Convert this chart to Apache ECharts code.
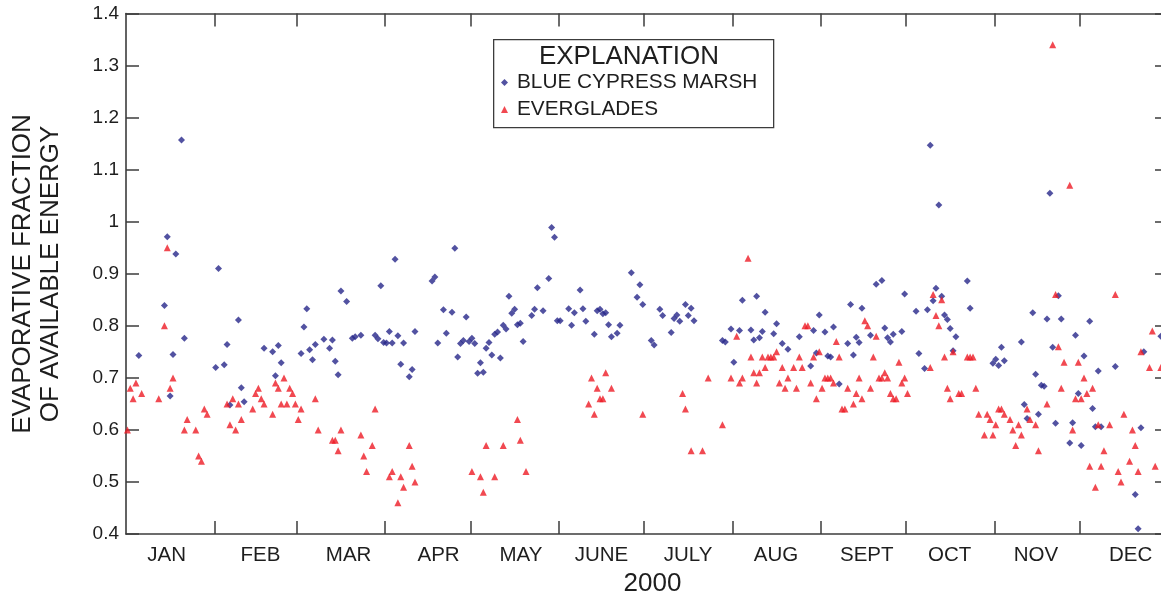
<!DOCTYPE html>
<html>
<head>
<meta charset="utf-8">
<title>Evaporative fraction of available energy, 2000</title>
<script src="https://cdn.jsdelivr.net/npm/echarts@6/dist/echarts.min.js"></script>
<style>
  html, body { margin: 0; padding: 0; background: #fff; overflow: hidden; }
  #chart { width: 1170px; height: 597px; }
</style>
</head>
<body>
<div id="chart"></div>
<script>
// Month names and lengths for the year 2000 (leap year)
const monthNames = ['JAN', 'FEB', 'MAR', 'APR', 'MAY', 'JUNE', 'JULY', 'AUG', 'SEPT', 'OCT', 'NOV', 'DEC'];
const monthDays = [31, 29, 31, 30, 31, 30, 31, 31, 30, 31, 30, 31];
// Day-of-year where each month name is set under the axis
const monthLabelDays = [14.8, 47.7, 78.7, 110.3, 139.2, 167.5, 197.9, 228.8, 260.7, 289.8, 320.1, 353.4];

// Y-axis tick values
const yTicks = [0.4, 0.5, 0.6, 0.7, 0.8, 0.9, 1.0, 1.1, 1.2, 1.3, 1.4];

// Daily evaporative fraction, [day of year, value]
const blueCypressMarsh = [
  [5, 0.743], [14, 0.839], [15, 0.971], [16, 0.665], [17, 0.745], [18, 0.938], [20, 1.157], [21, 0.776],
  [32, 0.720], [33, 0.910], [35, 0.725], [36, 0.764], [37, 0.648], [40, 0.811], [41, 0.681], [42, 0.654],
  [49, 0.757], [52, 0.750], [53, 0.704], [54, 0.762], [55, 0.729],
  [62, 0.747], [63, 0.798], [64, 0.833], [65, 0.754], [66, 0.735], [67, 0.764], [70, 0.774], [72, 0.757],
  [73, 0.773], [74, 0.732], [75, 0.706], [76, 0.867], [78, 0.847], [80, 0.776], [81, 0.779],
  [83, 0.782], [88, 0.782], [89, 0.775], [90, 0.877], [91, 0.768], [92, 0.767], [93, 0.789], [94, 0.767],
  [95, 0.928], [96, 0.781], [97, 0.726], [98, 0.767], [100, 0.702], [101, 0.716], [102, 0.789],
  [108, 0.886], [109, 0.894], [110, 0.767], [112, 0.831], [113, 0.786], [115, 0.826], [116, 0.949],
  [117, 0.740], [118, 0.766], [119, 0.772], [120, 0.817], [121, 0.770], [122, 0.776], [123, 0.766],
  [124, 0.709], [125, 0.729], [126, 0.711], [127, 0.757], [128, 0.768], [129, 0.744], [130, 0.784],
  [131, 0.788], [132, 0.738], [133, 0.801], [134, 0.794], [135, 0.857], [136, 0.824], [137, 0.832],
  [138, 0.802], [139, 0.805], [140, 0.770],
  [143, 0.820], [144, 0.832], [145, 0.873], [147, 0.829], [149, 0.891], [150, 0.989], [151, 0.970],
  [152, 0.810], [153, 0.810], [156, 0.833], [157, 0.801], [158, 0.825], [160, 0.869], [161, 0.833],
  [162, 0.809], [165, 0.784], [166, 0.829], [167, 0.832], [168, 0.823], [169, 0.825], [170, 0.802],
  [171, 0.779], [173, 0.786], [174, 0.801],
  [178, 0.902], [180, 0.855], [181, 0.879], [182, 0.841], [185, 0.772], [186, 0.763], [188, 0.832],
  [189, 0.820], [192, 0.787], [193, 0.814], [194, 0.821], [195, 0.809], [197, 0.841], [198, 0.820],
  [199, 0.834], [200, 0.810],
  [210, 0.772], [211, 0.769], [213, 0.794], [214, 0.730], [216, 0.791], [217, 0.849], [220, 0.792],
  [221, 0.773], [222, 0.857], [223, 0.777], [224, 0.789], [225, 0.826], [228, 0.785], [229, 0.804],
  [231, 0.766], [233, 0.755], [237, 0.779], [241, 0.723], [242, 0.791], [243, 0.748],
  [244, 0.821], [246, 0.788], [247, 0.742], [248, 0.740], [249, 0.798], [251, 0.688], [254, 0.766],
  [255, 0.841], [256, 0.744], [257, 0.778], [258, 0.768], [259, 0.834], [262, 0.782], [264, 0.880],
  [266, 0.887], [267, 0.796], [268, 0.777], [269, 0.769], [270, 0.784], [273, 0.789], [274, 0.861],
  [278, 0.828], [279, 0.747], [281, 0.718], [282, 0.831], [283, 1.147], [284, 0.848], [285, 0.872],
  [286, 1.032], [287, 0.857], [288, 0.821], [289, 0.812], [290, 0.795], [291, 0.752], [292, 0.779],
  [296, 0.886], [297, 0.834],
  [305, 0.728], [306, 0.736], [307, 0.724], [308, 0.759], [309, 0.733], [315, 0.769], [316, 0.649],
  [317, 0.622], [319, 0.825], [320, 0.707], [321, 0.630], [322, 0.686], [323, 0.684], [324, 0.813],
  [325, 1.055], [326, 0.759], [327, 0.613], [328, 0.858], [329, 0.813], [332, 0.575], [333, 0.614],
  [334, 0.782],
  [335, 0.670], [336, 0.570], [337, 0.742], [339, 0.809], [340, 0.641], [341, 0.606], [342, 0.713],
  [343, 0.606], [348, 0.722], [355, 0.476], [356, 0.410], [357, 0.604], [358, 0.750], [364, 0.780]
];

const everglades = [
  [1, 0.60], [2, 0.68], [3, 0.66], [4, 0.69], [6, 0.67], [12, 0.66], [14, 0.80], [15, 0.95], [16, 0.68],
  [17, 0.70], [21, 0.60], [22, 0.62], [25, 0.60], [26, 0.55], [27, 0.54], [28, 0.64], [29, 0.63],
  [36, 0.65], [37, 0.61], [38, 0.66], [39, 0.60], [40, 0.65], [41, 0.62], [45, 0.64], [46, 0.67],
  [47, 0.68], [48, 0.66], [49, 0.65], [52, 0.63], [53, 0.69], [54, 0.68], [55, 0.65], [56, 0.70],
  [57, 0.65], [58, 0.68], [59, 0.67], [60, 0.65],
  [61, 0.62], [62, 0.64], [67, 0.66], [68, 0.60], [73, 0.58], [74, 0.58], [75, 0.56], [76, 0.60],
  [83, 0.59], [84, 0.55], [85, 0.52], [87, 0.57], [88, 0.64],
  [93, 0.51], [94, 0.52], [96, 0.46], [97, 0.51], [98, 0.49], [100, 0.57], [101, 0.53], [102, 0.50],
  [122, 0.52], [125, 0.51], [126, 0.48], [127, 0.57], [130, 0.51], [133, 0.57], [138, 0.62], [139, 0.58],
  [141, 0.52],
  [163, 0.65], [164, 0.70], [165, 0.63], [166, 0.68], [167, 0.66], [168, 0.66], [169, 0.71], [171, 0.68],
  [182, 0.63], [196, 0.67], [197, 0.64], [199, 0.56], [203, 0.56], [205, 0.70], [210, 0.61],
  [213, 0.70], [215, 0.78], [216, 0.69], [217, 0.70], [219, 0.93], [220, 0.74], [221, 0.71], [222, 0.69],
  [223, 0.71], [224, 0.74], [225, 0.72], [226, 0.74], [227, 0.74], [228, 0.74], [229, 0.75], [230, 0.69],
  [231, 0.72], [232, 0.68], [233, 0.70], [235, 0.72], [236, 0.68], [237, 0.74], [238, 0.72], [239, 0.80],
  [240, 0.80], [241, 0.69], [242, 0.74], [243, 0.66], [244, 0.75],
  [245, 0.68], [246, 0.70], [247, 0.70], [248, 0.70], [249, 0.69], [250, 0.77], [251, 0.74], [252, 0.64],
  [253, 0.64], [254, 0.68], [256, 0.65], [257, 0.67], [258, 0.70], [259, 0.66], [260, 0.81], [261, 0.80],
  [262, 0.68], [263, 0.74], [264, 0.78], [265, 0.70], [266, 0.70], [267, 0.71], [268, 0.70], [269, 0.67],
  [270, 0.66], [271, 0.66], [272, 0.73], [273, 0.69], [274, 0.70],
  [275, 0.67], [283, 0.72], [284, 0.86], [285, 0.82], [286, 0.80], [287, 0.85], [288, 0.74], [289, 0.68],
  [290, 0.66], [291, 0.75], [293, 0.67], [294, 0.67], [296, 0.74], [297, 0.74], [298, 0.74], [299, 0.68],
  [300, 0.63], [302, 0.59], [303, 0.63], [304, 0.62], [305, 0.59],
  [306, 0.61], [307, 0.64], [308, 0.64], [309, 0.63], [311, 0.62], [312, 0.60], [313, 0.57], [314, 0.61],
  [315, 0.59], [317, 0.64], [318, 0.62], [320, 0.61], [321, 0.56], [324, 0.65], [326, 1.34], [327, 0.86],
  [328, 0.76], [329, 0.68], [330, 0.73], [332, 1.07], [333, 0.60], [334, 0.66],
  [335, 0.73], [336, 0.66], [337, 0.70], [338, 0.67], [339, 0.53], [340, 0.68], [341, 0.49], [342, 0.61],
  [343, 0.53], [344, 0.56], [346, 0.61], [348, 0.86], [349, 0.52], [350, 0.50], [351, 0.63], [353, 0.54],
  [354, 0.60], [355, 0.57], [356, 0.52], [357, 0.75], [360, 0.72], [361, 0.79], [362, 0.53], [364, 0.72]
];

// Month boundaries (between days) on the day-of-year scale
const monthEdges = [];
let edge = 0.5;
monthDays.forEach(function (n) {
  edge += n;
  monthEdges.push(edge);
});
const innerEdges = monthEdges.slice(0, -1);

const FONT = '"Liberation Sans", Arial, Helvetica, sans-serif';
const AXIS_COLOR = '#3c3c3c';
const TEXT_COLOR = '#1e1e1e';
const BLUE = '#27278a';
const RED = '#ee1c25';

const chart = echarts.init(document.getElementById('chart'), null, { renderer: 'canvas' });

const tickStyle = { show: true, inside: true, length: 13, lineStyle: { color: AXIS_COLOR, width: 1.5 } };
const lineStyle = { show: true, onZero: false, lineStyle: { color: AXIS_COLOR, width: 1.6 } };

chart.setOption({
  animation: false,
  backgroundColor: '#ffffff',
  textStyle: { fontFamily: FONT },
  grid: { left: 126, right: 2, top: 13.6, bottom: 63, containLabel: false, outerBoundsMode: 'none' },
  xAxis: [
    {
      type: 'value',
      position: 'bottom',
      min: 0.5,
      max: 366.5,
      axisLine: lineStyle,
      axisTick: Object.assign({}, tickStyle, { customValues: innerEdges }),
      axisLabel: {
        customValues: monthLabelDays,
        margin: 11.5,
        color: TEXT_COLOR,
        fontSize: 20.5,
        lineHeight: 20,
        fontFamily: FONT,
        formatter: function (v) {
          const i = monthLabelDays.findIndex(function (c) { return Math.abs(c - v) < 0.01; });
          return i >= 0 ? monthNames[i] : '';
        }
      },
      splitLine: { show: false },
      name: '2000',
      nameLocation: 'middle',
      nameGap: 32,
      nameTextStyle: { color: TEXT_COLOR, fontSize: 26, lineHeight: 26, fontFamily: FONT, padding: [0, 0, 0, 11] }
    },
    {
      type: 'value',
      position: 'top',
      min: 0.5,
      max: 366.5,
      axisLine: lineStyle,
      axisTick: Object.assign({}, tickStyle, { customValues: innerEdges }),
      axisLabel: { show: false },
      splitLine: { show: false }
    }
  ],
  yAxis: [
    {
      type: 'value',
      position: 'left',
      min: 0.4,
      max: 1.4,
      interval: 0.1,
      axisLine: lineStyle,
      axisTick: tickStyle,
      axisLabel: {
        margin: 7,
        color: TEXT_COLOR,
        fontSize: 19,
        fontFamily: FONT,
        customValues: yTicks,
        formatter: function (v) { return String(Math.round(v * 10) / 10); }
      },
      splitLine: { show: false }
    },
    {
      type: 'value',
      position: 'right',
      min: 0.4,
      max: 1.4,
      interval: 0.1,
      axisLine: lineStyle,
      axisTick: tickStyle,
      axisLabel: { show: false },
      splitLine: { show: false }
    }
  ],
  legend: {
    orient: 'vertical',
    left: 501,
    top: 72,
    padding: 0,
    itemGap: 6,
    itemWidth: 7,
    itemHeight: 7,
    textStyle: { color: TEXT_COLOR, fontSize: 20.8, lineHeight: 20, fontFamily: FONT, padding: [0, 0, 0, 4] },
    data: ['BLUE CYPRESS MARSH', 'EVERGLADES']
  },
  graphic: [
    {
      type: 'rect',
      left: 493,
      top: 39,
      shape: { width: 280, height: 88 },
      style: { fill: 'rgba(0,0,0,0)', stroke: AXIS_COLOR, lineWidth: 1.3 },
      z: 1
    },
    {
      type: 'text',
      x: 629,
      y: 57,
      style: { text: 'EXPLANATION', fill: TEXT_COLOR, font: '26px ' + FONT, textAlign: 'center', textVerticalAlign: 'middle' }
    },
    {
      type: 'text',
      x: 23,
      y: 274,
      rotation: Math.PI / 2,
      style: { text: 'EVAPORATIVE FRACTION', fill: TEXT_COLOR, font: '26px ' + FONT, textAlign: 'center', textVerticalAlign: 'middle' }
    },
    {
      type: 'text',
      x: 51,
      y: 274,
      rotation: Math.PI / 2,
      style: { text: 'OF AVAILABLE ENERGY', fill: TEXT_COLOR, font: '26px ' + FONT, textAlign: 'center', textVerticalAlign: 'middle' }
    }
  ],
  series: [
    {
      name: 'BLUE CYPRESS MARSH',
      type: 'scatter',
      symbol: 'diamond',
      symbolSize: 7,
      itemStyle: { color: BLUE },
      data: blueCypressMarsh,
      z: 3
    },
    {
      name: 'EVERGLADES',
      type: 'scatter',
      symbol: 'triangle',
      symbolSize: 7,
      itemStyle: { color: RED },
      data: everglades,
      z: 4
    }
  ]
});
</script>
</body>
</html>
